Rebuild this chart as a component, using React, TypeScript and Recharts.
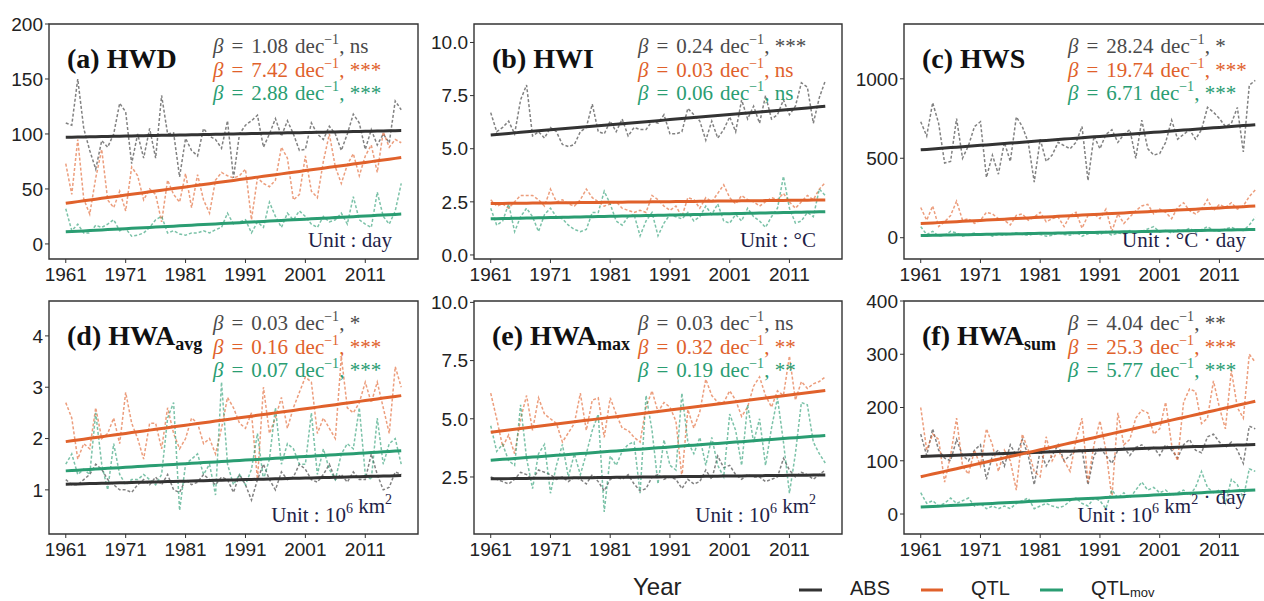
import React from 'react';
import { LineChart, Line, XAxis, YAxis, ReferenceArea } from 'recharts';

// Years 1961–2017
const YEARS: number[] = Array.from({ length: 57 }, (_, i) => 1961 + i);
const X_TICKS = [1961, 1971, 1981, 1991, 2001, 2011];
const X_DOMAIN: [number, number] = [1958.2, 2019.8];

const SANS = '"Liberation Sans", Arial, Helvetica, sans-serif';
const SERIF = '"Liberation Serif", "Times New Roman", serif';

const COLORS = { abs: '#333333', qtl: '#e0612b', mov: '#2a9d72' };
const TEXT_COLORS = ['#4a4a4a', '#e0612b', '#2a9d72'];
const UNIT_COLOR = '#1e1e48';

// (a) HWD, days
const hwdAbs = [110, 108, 150, 105, 85, 68, 94, 88, 100, 128, 120, 73, 100, 78, 105, 78, 135, 100, 101, 61, 96, 85, 80, 105, 98, 95, 87, 112, 60, 100, 108, 112, 117, 88, 100, 114, 98, 112, 100, 85, 86, 110, 100, 95, 107, 100, 85, 100, 118, 110, 86, 104, 90, 100, 92, 130, 122];
const hwdQtl = [73, 45, 95, 41, 27, 60, 86, 40, 33, 48, 30, 70, 62, 40, 50, 45, 20, 58, 45, 38, 64, 33, 63, 40, 28, 58, 65, 62, 60, 62, 68, 22, 60, 55, 52, 58, 88, 78, 40, 45, 80, 48, 42, 75, 100, 70, 55, 72, 82, 62, 80, 90, 65, 102, 88, 95, 92];
const hwdMov = [32, 12, 18, 10, 10, 17, 15, 18, 22, 12, 14, 7, 8, 10, 15, 22, 25, 10, 12, 9, 8, 10, 10, 12, 10, 13, 15, 28, 18, 20, 22, 10, 20, 15, 38, 25, 15, 28, 22, 30, 25, 18, 15, 25, 20, 22, 28, 18, 43, 22, 18, 15, 47, 25, 18, 30, 55];
const hwdBeta = [1.08, 7.42, 2.88];
const hwdStart = [97, 37, 11];
const hwdSig = ['ns', '***', '***'];

// (b) HWI, °C
const hwiAbs = [6.7, 5.8, 6.0, 6.3, 5.7, 7.3, 8.0, 5.6, 5.8, 5.5, 6.0, 5.8, 5.2, 5.1, 5.2, 5.8, 6.0, 7.1, 5.8, 5.7, 6.3, 5.8, 6.4, 5.6, 6.0, 5.9, 5.9, 6.3, 6.2, 6.6, 5.7, 5.7, 5.8, 6.9, 6.6, 6.3, 5.4, 6.3, 5.5, 5.9, 6.5, 5.8, 7.3, 6.4, 7.0, 6.2, 7.5, 6.4, 6.6, 7.3, 6.6, 7.0, 8.1, 7.9, 6.2, 7.4, 8.2];
const hwiQtl = [2.6, 2.3, 2.4, 2.2, 2.5, 2.8, 2.8, 2.8, 2.6, 2.3, 3.1, 2.5, 2.6, 2.4, 2.3, 2.6, 3.1, 2.7, 2.5, 2.3, 2.4, 2.5, 2.2, 2.1, 2.0, 2.1, 2.0, 2.8, 2.6, 2.3, 2.1, 2.3, 1.8, 2.7, 2.6, 2.2, 2.7, 2.5, 2.9, 3.3, 2.7, 2.4, 2.8, 2.6, 2.5, 2.3, 2.5, 2.7, 2.6, 2.9, 2.5, 2.2, 2.5, 2.8, 2.6, 3.1, 3.4];
const hwiMov = [2.2, 1.4, 1.6, 2.4, 1.1, 1.8, 2.2, 1.8, 1.1, 1.9, 2.2, 1.8, 1.7, 1.4, 1.2, 1.1, 1.2, 2.0, 2.0, 3.0, 2.4, 1.6, 1.4, 1.8, 1.9, 0.9, 1.6, 2.0, 0.9, 1.5, 1.9, 1.8, 1.7, 2.0, 1.6, 1.8, 2.3, 1.9, 2.4, 1.6, 1.5, 1.9, 1.6, 2.2, 1.8, 1.6, 1.3, 1.8, 2.2, 3.7, 2.2, 1.5, 1.6, 2.0, 1.8, 3.1, 2.8];
const hwiBeta = [0.24, 0.03, 0.06];
const hwiStart = [5.65, 2.42, 1.7];
const hwiSig = ['***', 'ns', 'ns'];

// (c) HWS, °C·day
const hwsAbs = [730, 640, 850, 720, 470, 480, 750, 500, 580, 700, 730, 380, 520, 400, 600, 480, 760, 700, 600, 350, 620, 480, 520, 600, 580, 560, 600, 700, 360, 640, 560, 650, 680, 600, 650, 680, 500, 740, 560, 520, 530, 600, 740, 620, 650, 680, 620, 680, 820, 790, 750, 700, 720, 820, 540, 960, 990];
const hwsQtl = [190, 110, 200, 70, 100, 140, 230, 110, 120, 90, 110, 160, 150, 120, 110, 80, 140, 150, 110, 130, 160, 100, 120, 130, 70, 140, 160, 60, 140, 150, 120, 180, 40, 150, 90, 130, 170, 200, 210, 150, 180, 160, 120, 190, 220, 170, 150, 180, 240, 170, 210, 190, 220, 180, 200, 260, 300];
const hwsMov = [70, 20, 40, 10, 15, 40, 30, 10, 20, 30, 15, 25, 10, 20, 15, 25, 30, 20, 15, 25, 20, 10, 15, 30, 20, 15, 35, 10, 25, 30, 20, 40, 15, 30, 25, 45, 30, 40, 55, 70, 35, 45, 30, 50, 40, 60, 35, 50, 70, 45, 40, 55, 65, 50, 45, 80, 130];
const hwsBeta = [28.24, 19.74, 6.71];
const hwsStart = [553, 89, 14];
const hwsSig = ['*', '***', '***'];

// (d) HWA avg, 10^6 km²
const hwaAvgAbs = [1.2, 1.1, 1.1, 1.2, 1.3, 1.5, 1.4, 1.2, 1.1, 1.0, 1.0, 0.95, 1.1, 1.2, 1.1, 1.25, 1.1, 1.3, 1.0, 0.95, 1.2, 1.1, 1.15, 1.3, 1.2, 1.1, 1.25, 1.2, 0.95, 1.3, 1.1, 0.8, 1.2, 1.5, 1.2, 1.0, 1.35, 1.2, 1.25, 1.5, 1.4, 1.2, 1.15, 1.3, 1.5, 1.2, 1.3, 1.15, 1.35, 1.2, 1.2, 1.7, 1.3, 1.0, 1.05, 1.35, 1.3];
const hwaAvgQtl = [2.7, 2.4, 1.6, 1.9, 1.8, 2.6, 2.0, 2.1, 2.4, 1.9, 2.9, 2.3, 2.0, 1.6, 2.3, 2.3, 1.8, 2.6, 2.1, 1.8, 2.0, 2.4, 2.3, 1.9, 2.0, 1.7, 2.2, 2.8, 2.6, 2.3, 2.2, 2.5, 1.2, 3.0, 2.1, 2.4, 2.8, 2.2, 2.6, 2.9, 3.2, 3.1, 2.1, 2.4, 2.2, 2.0, 3.6, 2.6, 2.5, 2.7, 3.1, 2.7, 3.1, 2.6, 2.1, 3.4, 3.0];
const hwaAvgMov = [1.5, 1.7, 1.3, 1.4, 1.3, 2.5, 1.5, 1.0, 1.9, 1.3, 1.1, 1.2, 1.2, 1.3, 1.2, 1.1, 1.3, 2.4, 2.7, 0.6, 1.5, 1.6, 1.7, 1.3, 1.5, 0.9, 3.1, 1.5, 1.1, 1.3, 1.1, 1.4, 2.1, 1.2, 1.6, 2.6, 1.5, 1.9, 1.8, 1.5, 1.5, 2.5, 1.3, 1.8, 1.4, 1.2, 1.7, 1.9, 1.8, 2.6, 1.3, 1.2, 2.4, 1.5, 1.9, 2.0, 1.5];
const hwaAvgBeta = [0.03, 0.16, 0.07];
const hwaAvgStart = [1.11, 1.94, 1.37];
const hwaAvgSig = ['*', '***', '***'];

// (e) HWA max, 10^6 km²
const hwaMaxAbs = [2.5, 2.4, 2.3, 2.2, 2.4, 2.7, 2.6, 2.4, 2.8, 2.7, 2.6, 2.4, 2.5, 2.3, 2.5, 2.4, 2.2, 2.6, 2.3, 1.9, 2.4, 2.5, 2.4, 2.6, 2.2, 1.9, 2.0, 2.5, 2.6, 2.4, 2.5, 2.4, 2.0, 2.4, 2.2, 2.3, 2.8, 2.4, 3.4, 2.9, 3.0, 2.6, 2.4, 2.6, 2.5, 2.5, 2.3, 2.4, 2.5, 3.3, 2.8, 2.5, 2.7, 2.6, 2.4, 2.6, 2.8];
const hwaMaxQtl = [6.1, 5.0, 3.8, 4.3, 3.5, 5.0, 6.0, 4.5, 5.9, 5.2, 5.0, 4.8, 4.0, 4.4, 4.8, 6.1, 4.5, 5.8, 5.9, 4.2, 5.9, 5.2, 4.6, 4.5, 4.2, 4.0, 5.5, 6.2, 5.3, 5.7, 5.5, 4.9, 2.5, 5.4, 4.6, 5.3, 6.7, 6.0, 5.7, 5.7, 6.2, 5.8, 5.1, 5.5, 6.4, 6.8, 6.0, 5.5, 6.2, 6.0, 7.7, 5.8, 6.6, 6.3, 6.5, 6.6, 6.8];
const hwaMaxMov = [4.7, 3.6, 3.9, 3.2, 3.0, 5.6, 3.3, 2.0, 3.5, 3.9, 1.8, 3.0, 3.9, 2.5, 3.5, 2.6, 3.5, 4.5, 5.2, 1.0, 3.4, 3.0, 3.6, 3.9, 4.0, 1.8, 6.0, 4.5, 2.2, 4.1, 3.0, 2.8, 6.1, 4.0, 3.5, 4.2, 3.0, 4.2, 3.0, 2.5, 5.2, 4.5, 3.0, 5.6, 4.0, 5.0, 3.0, 4.6, 5.9, 4.0, 1.8, 3.5, 5.7, 5.6, 4.0, 3.5, 3.1];
const hwaMaxBeta = [0.03, 0.32, 0.19];
const hwaMaxStart = [2.42, 4.42, 3.22];
const hwaMaxSig = ['ns', '**', '**'];

// (f) HWA sum, 10^6 km²·day
const hwaSumAbs = [150, 110, 160, 120, 105, 100, 140, 110, 100, 120, 130, 65, 110, 120, 90, 130, 110, 140, 110, 55, 120, 90, 110, 130, 100, 110, 120, 120, 55, 110, 125, 110, 95, 120, 125, 110, 125, 130, 120, 125, 110, 130, 120, 105, 130, 140, 120, 115, 145, 150, 135, 125, 135, 120, 95, 165, 160];
const hwaSumQtl = [200, 120, 150, 140, 60, 110, 180, 90, 75, 120, 90, 160, 130, 80, 120, 100, 45, 150, 120, 80, 70, 145, 100, 120, 100, 80, 140, 180, 60, 130, 175, 120, 30, 190, 130, 140, 180, 195, 190, 150, 160, 210, 130, 100, 210, 235, 230, 170, 180, 250, 200, 160, 270, 200, 180, 300, 285];
const hwaSumMov = [40, 20, 25, 15, 20, 30, 20, 25, 30, 15, 20, 10, 15, 10, 15, 10, 20, 25, 30, 10, 15, 20, 15, 12, 15, 25, 30, 20, 15, 30, 25, 10, 45, 30, 40, 30, 45, 60, 45, 50, 40, 45, 35, 40, 45, 35, 50, 80, 50, 40, 45, 20, 65, 55, 30, 85, 80];
const hwaSumBeta = [4.04, 25.3, 5.77];
const hwaSumStart = [108, 70, 13];
const hwaSumSig = ['**', '***', '***'];

type Panel = {
  label: string;
  sub?: string;
  abs: number[];
  qtl: number[];
  mov: number[];
  beta: number[];
  start: number[];
  sig: string[];
  yDomain: [number, number];
  yTicks: number[];
  decimals: number;
  unit: React.ReactNode;
  frame: [number, number, number, number];
};

const sup = (s: string) => [
  <tspan key={s + 'a'} dy={-9} fontSize={14}>{s}</tspan>,
  <tspan key={s + 'b'} dy={9}>{''}</tspan>,
];

const PANELS: Panel[] = [
  {
    label: '(a) HWD', abs: hwdAbs, qtl: hwdQtl, mov: hwdMov, beta: hwdBeta, start: hwdStart, sig: hwdSig,
    yDomain: [-13.7, 200], yTicks: [0, 50, 100, 150, 200], decimals: 0,
    unit: <>Unit : day</>, frame: [49, 24, 369, 235],
  },
  {
    label: '(b) HWI', abs: hwiAbs, qtl: hwiQtl, mov: hwiMov, beta: hwiBeta, start: hwiStart, sig: hwiSig,
    yDomain: [-0.19, 10.87], yTicks: [0, 2.5, 5, 7.5, 10], decimals: 1,
    unit: <>Unit : °C</>, frame: [474, 24, 368, 235],
  },
  {
    label: '(c) HWS', abs: hwsAbs, qtl: hwsQtl, mov: hwsMov, beta: hwsBeta, start: hwsStart, sig: hwsSig,
    yDomain: [-134, 1345], yTicks: [0, 500, 1000], decimals: 0,
    unit: <>Unit : °C · day</>, frame: [904, 24, 368, 235],
  },
  {
    label: '(d) HWA', sub: 'avg', abs: hwaAvgAbs, qtl: hwaAvgQtl, mov: hwaAvgMov, beta: hwaAvgBeta, start: hwaAvgStart, sig: hwaAvgSig,
    yDomain: [0.14, 4.68], yTicks: [1, 2, 3, 4], decimals: 0,
    unit: <>Unit : 10{sup('6')} km{sup('2')}</>, frame: [49, 301, 369, 233],
  },
  {
    label: '(e) HWA', sub: 'max', abs: hwaMaxAbs, qtl: hwaMaxQtl, mov: hwaMaxMov, beta: hwaMaxBeta, start: hwaMaxStart, sig: hwaMaxSig,
    yDomain: [0.05, 10.06], yTicks: [2.5, 5, 7.5, 10], decimals: 1,
    unit: <>Unit : 10{sup('6')} km{sup('2')}</>, frame: [474, 301, 368, 233],
  },
  {
    label: '(f) HWA', sub: 'sum', abs: hwaSumAbs, qtl: hwaSumQtl, mov: hwaSumMov, beta: hwaSumBeta, start: hwaSumStart, sig: hwaSumSig,
    yDomain: [-37.5, 400], yTicks: [0, 100, 200, 300, 400], decimals: 0,
    unit: <>Unit : 10{sup('6')} km{sup('2')} · day</>, frame: [904, 301, 368, 233],
  },
];

const tickStyle = { fontSize: 19, fill: '#222', fontFamily: SANS };

function PanelChart({ p }: { p: Panel }) {
  const [fx, fy, fw, fh] = p.frame;
  const data = YEARS.map((year, i) => ({
    year,
    abs: p.abs[i],
    qtl: p.qtl[i],
    mov: p.mov[i],
    absFit: p.start[0] + (p.beta[0] * (year - 1961)) / 10,
    qtlFit: p.start[1] + (p.beta[1] * (year - 1961)) / 10,
    movFit: p.start[2] + (p.beta[2] * (year - 1961)) / 10,
  }));
  const dashed = { strokeWidth: 1.5, strokeDasharray: '3 2', strokeOpacity: 0.62, dot: false, isAnimationActive: false };
  const solid = { strokeWidth: 3, dot: false, isAnimationActive: false };
  return (
    <div style={{ position: 'absolute', left: fx - 60, top: fy - 20 }}>
      <LineChart width={fw + 80} height={fh + 60} data={data} margin={{ top: 20, right: 20, bottom: 10, left: 10 }}>
        <XAxis
          dataKey="year" type="number" domain={X_DOMAIN} allowDataOverflow ticks={X_TICKS} interval={0}
          axisLine={false} tickLine={{ stroke: '#333' }} tickSize={4} tickMargin={5} height={30} tick={tickStyle}
        />
        <YAxis
          type="number" domain={p.yDomain} allowDataOverflow ticks={p.yTicks} interval={0}
          axisLine={false} tickLine={{ stroke: '#333' }} tickSize={4} tickMargin={2} width={50} tick={tickStyle}
          tickFormatter={(v: number) => v.toFixed(p.decimals)}
        />
        <ReferenceArea
          x1={X_DOMAIN[0]} x2={X_DOMAIN[1]} y1={p.yDomain[0]} y2={p.yDomain[1]}
          fill="#ffffff" fillOpacity={0} stroke="#333" strokeWidth={1.4} strokeOpacity={1} ifOverflow="visible"
        />
        <Line dataKey="abs" stroke={COLORS.abs} {...dashed} />
        <Line dataKey="qtl" stroke={COLORS.qtl} {...dashed} />
        <Line dataKey="mov" stroke={COLORS.mov} {...dashed} />
        <Line dataKey="absFit" stroke={COLORS.abs} {...solid} />
        <Line dataKey="qtlFit" stroke={COLORS.qtl} {...solid} />
        <Line dataKey="movFit" stroke={COLORS.mov} {...solid} />
      </LineChart>
    </div>
  );
}

function Annotations({ p }: { p: Panel }) {
  const [fx, fy, fw, fh] = p.frame;
  const bx = fx + 164;
  const rows = [fy + 29, fy + 52.5, fy + 76];
  return (
    <g>
      <text x={fx + 18} y={fy + 44} fontFamily={SERIF} fontWeight="bold" fontSize={28} fill="#111">
        {p.label}
        {p.sub ? <tspan fontSize={18} dy={5}>{p.sub}</tspan> : null}
      </text>
      {rows.map((y, i) => (
        <text key={i} x={bx} y={y} fill={TEXT_COLORS[i]} fontFamily={SERIF} fontSize={21}>
          <tspan fontStyle="italic">β</tspan>
          <tspan dx={8}>=</tspan>
          <tspan dx={8}>{String(p.beta[i])}</tspan>
          <tspan dx={7}>dec</tspan>
          <tspan dy={-9} fontSize={14}>−1</tspan>
          <tspan dy={9}>{', ' + p.sig[i]}</tspan>
        </text>
      ))}
      <text x={fx + fw - 26} y={fy + fh - 12} textAnchor="end" fill={UNIT_COLOR} fontFamily={SERIF} fontSize={21}>
        {p.unit}
      </text>
    </g>
  );
}

export default function App() {
  return (
    <div style={{ position: 'absolute', left: 0, top: 0, width: 1264, height: 601, overflow: 'hidden', background: '#fff' }}>
      {PANELS.map((p) => (
        <PanelChart key={p.label + (p.sub || '')} p={p} />
      ))}
      <svg width={1264} height={601} style={{ position: 'absolute', left: 0, top: 0, pointerEvents: 'none' }}>
        {PANELS.map((p) => (
          <Annotations key={p.label + (p.sub || '')} p={p} />
        ))}
        <text x={633} y={595} fontFamily={SANS} fontSize={24} fill="#222">Year</text>
        <line x1={799} x2={822} y1={590} y2={590} stroke={COLORS.abs} strokeWidth={3} />
        <text x={850} y={595} fontFamily={SANS} fontSize={20} fill="#222">ABS</text>
        <line x1={921} x2={943} y1={590} y2={590} stroke={COLORS.qtl} strokeWidth={3} />
        <text x={971} y={595} fontFamily={SANS} fontSize={20} fill="#222">QTL</text>
        <line x1={1040} x2={1063} y1={590} y2={590} stroke={COLORS.mov} strokeWidth={3} />
        <text x={1091} y={595} fontFamily={SANS} fontSize={20} fill="#222">
          QTL<tspan fontSize={13} dy={2}>mov</tspan>
        </text>
      </svg>
    </div>
  );
}
